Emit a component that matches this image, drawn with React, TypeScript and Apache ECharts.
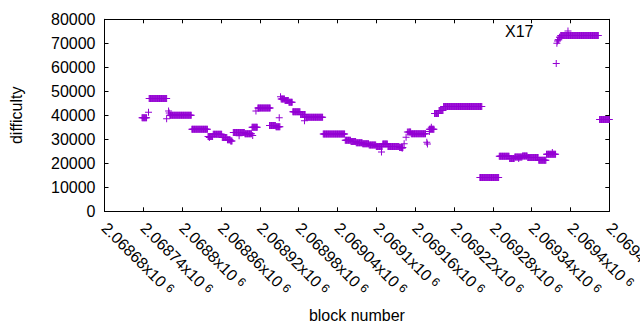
import React, { useEffect, useRef } from "react";
import * as echarts from "echarts";

// Runs of consecutive blocks sharing one difficulty value
const runStart = [
  2068738, 2068749, 2068781, 2068815, 2068840, 2068848, 2068862, 2068870, 2068875,
  2068879, 2068897, 2068908, 2068917, 2068935, 2068945, 2068953, 2068959, 2068965,
  2068971, 2068983, 2068991, 2069018, 2069052, 2069061, 2069069, 2069079, 2069089,
  2069100, 2069110, 2069118, 2069136, 2069150, 2069154, 2069182, 2069190, 2069197,
  2069204, 2069260, 2069290, 2069306, 2069314, 2069326, 2069334, 2069351, 2069363,
  2069381, 2069383, 2069385, 2069445,
];
const runEnd = [
  2068745, 2068776, 2068814, 2068839, 2068847, 2068861, 2068869, 2068874, 2068877,
  2068896, 2068907, 2068916, 2068936, 2068944, 2068951, 2068958, 2068964, 2068970,
  2068982, 2068990, 2069017, 2069051, 2069060, 2069068, 2069078, 2069088, 2069099,
  2069109, 2069117, 2069135, 2069141, 2069153, 2069176, 2069189, 2069196, 2069203,
  2069263, 2069289, 2069305, 2069313, 2069325, 2069333, 2069350, 2069362, 2069377,
  2069382, 2069384, 2069443, 2069460,
];
const runValue = [
  39000, 47000, 40000, 34200, 31200, 32100, 30800, 29800, 29300,
  32800, 32300, 35000, 43000, 35800, 35200, 46800, 46200, 45400,
  41500, 40300, 39200, 32200, 29600, 29100, 28600, 28100, 27600,
  27000, 28000, 27000, 26600, 33000, 32300, 34200, 40800, 42000,
  43700, 14100, 22900, 22000, 22600, 23000, 22400, 21300, 23800,
  71500, 72500, 73300, 38300,
];

// Isolated points
const singleBlock = [
  2068748, 2068776, 2068779, 2068780, 2068842, 2068888, 2068909, 2068914, 2068950,
  2068952, 2068989, 2069108, 2069140, 2069143, 2069146, 2069148, 2069178, 2069179,
  2069182, 2069185, 2069320, 2069372, 2069378, 2069379, 2069380,
];
const singleValue = [
  41300, 38600, 41800, 41000, 30700, 31500, 31600, 41800, 39000,
  47700, 37700, 24700, 26300, 28100, 30900, 33000, 28800, 28000,
  33300, 35000, 22000, 24500, 61600, 70000, 71000,
];

const xMin = 2068680;
const xMax = 2069460;
const xStep = 60;
const yMin = 0;
const yMax = 80000;
const yStep = 10000;

const seriesName = "X17";
const xTitle = "block number";
const yTitle = "difficulty";

const PLUS = "path://M3,0h1v3h3v1h-3v3h-1v-3h-3v-1h3z";
const FONT = "Liberation Sans";
const FS = 16;

export default function App() {
  const ref = useRef<HTMLDivElement>(null);
  useEffect(() => {
    if (!ref.current) return;
    const chart = echarts.init(ref.current, undefined, { renderer: "svg" });
    const data: number[][] = [];
    for (let i = 0; i < runStart.length; i++) {
      for (let b = runStart[i]; b <= runEnd[i]; b++) data.push([b, runValue[i]]);
    }
    for (let i = 0; i < singleBlock.length; i++) data.push([singleBlock[i], singleValue[i]]);

    const axisLine = { show: true, onZero: false, lineStyle: { color: "#000", width: 1 } };
    const tick = { show: true, inside: true, length: 4, lineStyle: { color: "#000" } };
    const xFmt = (v: number) =>
      "{m|" + parseFloat((v / 1e6).toFixed(5)).toString() + "x10}{e|6}";

    chart.setOption({
      animation: false,
      backgroundColor: "#fff",
      textStyle: { fontFamily: FONT },
      grid: {
        left: 104.5,
        right: 30.7,
        top: 19.3,
        bottom: 118.7,
        containLabel: false,
        outerBoundsMode: "none",
      },
      legend: {
        show: true,
        data: [seriesName],
        left: 505,
        top: 23,
        align: "right",
        itemWidth: 7,
        itemHeight: 7,
        icon: PLUS,
        padding: 0,
        textStyle: { fontFamily: FONT, fontSize: FS, color: "#000", padding: [0, 26, 0, 0] },
        itemStyle: { color: "#9400d3" },
        selectedMode: false,
      },
      xAxis: [
        {
          type: "value",
          position: "bottom",
          min: xMin,
          max: xMax,
          interval: xStep,
          axisLine,
          axisTick: tick,
          splitLine: { show: false },
          axisLabel: {
            rotate: -45,
            margin: 14,
            color: "#000",
            fontFamily: FONT,
            formatter: xFmt,
            rich: {
              m: { fontSize: FS, color: "#000", fontFamily: FONT },
              e: {
                fontSize: 12,
                color: "#000",
                fontFamily: FONT,
                verticalAlign: "top",
                padding: [0, 0, 0, 4],
              },
            },
          },
          name: xTitle,
          nameLocation: "middle",
          nameGap: 96,
          nameTextStyle: { fontSize: FS, color: "#000", fontFamily: FONT },
        },
        {
          type: "value",
          position: "top",
          min: xMin,
          max: xMax,
          interval: xStep,
          axisLine,
          axisTick: tick,
          splitLine: { show: false },
          axisLabel: { show: false },
        },
      ],
      yAxis: [
        {
          type: "value",
          position: "left",
          min: yMin,
          max: yMax,
          interval: yStep,
          axisLine,
          axisTick: tick,
          splitLine: { show: false },
          axisLabel: {
            margin: 9,
            fontSize: FS,
            color: "#000",
            fontFamily: FONT,
            formatter: (v: number) => String(v),
          },
          name: yTitle,
          nameLocation: "middle",
          nameGap: 80,
          nameTextStyle: { fontSize: FS, color: "#000", fontFamily: FONT },
        },
        {
          type: "value",
          position: "right",
          min: yMin,
          max: yMax,
          interval: yStep,
          axisLine,
          axisTick: tick,
          splitLine: { show: false },
          axisLabel: { show: false },
        },
      ],
      series: [
        {
          name: seriesName,
          type: "scatter",
          data,
          symbol: PLUS,
          symbolSize: 7,
          itemStyle: { color: "#9400d3", opacity: 1 },
          clip: false,
          silent: true,
          xAxisIndex: 0,
          yAxisIndex: 0,
        },
      ],
    });
    return () => chart.dispose();
  }, []);
  return (
    <div
      ref={ref}
      style={{ position: "fixed", left: 0, top: 0, width: 640, height: 330, background: "#fff" }}
    />
  );
}
